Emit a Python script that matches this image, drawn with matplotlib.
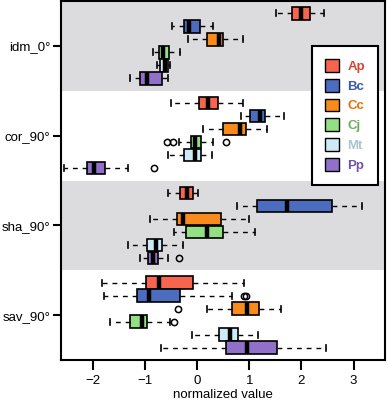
import matplotlib
matplotlib.use("Agg")
import matplotlib.pyplot as plt
from matplotlib.patches import Patch

plt.rcParams['font.family'] = ['Liberation Sans', 'DejaVu Sans']

features = ["idm_0°", "cor_90°", "sha_90°", "sav_90°"]
species = ["Ap", "Bc", "Cc", "Cj", "Mt", "Pp"]
box_colors = ["#F8654F", "#4C6CBF", "#F98A1C", "#92E081", "#CDEAF6", "#9070C8"]
text_colors = ["#D8452F", "#3A58A4", "#E2700E", "#6CB05A", "#A9C5D0", "#7050A8"]

# one row per feature, one value per species (Ap, Bc, Cc, Cj, Mt, Pp)
whislo = [[1.52, -0.48, -0.18, -0.86, -0.77, -1.29],
          [-0.51, 0.83, 0.10, -0.35, -0.56, -2.56],
          [-0.56, 0.77, -0.91, -0.45, -1.33, -1.10],
          [-1.83, -1.79, 0.18, -1.67, -0.11, -0.70]]
q1 = [[1.82, -0.25, 0.19, -0.74, -0.71, -1.10],
      [0.03, 1.01, 0.50, -0.13, -0.26, -2.11],
      [-0.33, 1.14, -0.40, -0.22, -0.97, -0.95],
      [-0.99, -1.15, 0.67, -1.29, 0.42, 0.55]]
med = [[1.99, -0.16, 0.42, -0.65, -0.62, -0.96],
       [0.21, 1.21, 0.82, -0.04, -0.05, -1.98],
       [-0.19, 1.72, -0.27, 0.19, -0.80, -0.85],
       [-0.73, -0.92, 0.95, -1.07, 0.63, 0.95]]
q3 = [[2.17, 0.05, 0.50, -0.54, -0.56, -0.67],
      [0.40, 1.30, 0.94, 0.08, 0.07, -1.77],
      [-0.09, 2.58, 0.45, 0.50, -0.67, -0.76],
      [-0.09, -0.33, 1.19, -0.97, 0.79, 1.53]]
whishi = [[2.44, 0.30, 0.87, -0.33, -0.53, -0.56],
          [0.87, 1.67, 1.33, 0.30, 0.28, -1.33],
          [0.02, 3.17, 1.00, 1.11, -0.27, -0.56],
          [0.90, 0.66, 1.60, -0.53, 1.17, 2.48]]
fliers = [[[], [], [], [], [], []],
          [[], [], [], [-0.58, -0.46, 0.56], [], [-0.83]],
          [[], [], [], [], [], [-0.35]],
          [[], [0.90, 0.94], [-0.38], [-0.45], [], []]]

fig = plt.figure(figsize=(3.88, 4.07), dpi=100)
ax = fig.add_axes([0.157, 0.1155, 0.836, 0.882])

ax.axhspan(-0.5, 0.5, color="#DCDCDE", zorder=0, lw=0)
ax.axhspan(1.5, 2.5, color="#DCDCDE", zorder=0, lw=0)

step = 0.145
for g in range(len(features)):
    stats = []
    pos = []
    for s in range(len(species)):
        stats.append(dict(med=med[g][s], q1=q1[g][s], q3=q3[g][s],
                          whislo=whislo[g][s], whishi=whishi[g][s],
                          fliers=fliers[g][s]))
        pos.append(g + (s - 2.5) * step)
    bp = ax.bxp(stats, positions=pos, widths=step * 0.95, orientation='horizontal',
                patch_artist=True, capwidths=step * 0.45,
                boxprops=dict(edgecolor="black", linewidth=1.2),
                medianprops=dict(color="black", linewidth=3.2, solid_capstyle='butt'),
                whiskerprops=dict(color="black", linewidth=1, linestyle=(0, (3.5, 3.5))),
                capprops=dict(color="black", linewidth=1.2),
                flierprops=dict(marker='o', markerfacecolor='none', markeredgecolor='black',
                                markersize=4.5, markeredgewidth=1.1),
                manage_ticks=False)
    for patch, c in zip(bp['boxes'], box_colors):
        patch.set_facecolor(c)

ax.set_ylim(3.5, -0.5)
ax.set_xlim(-2.62, 3.61)
ax.set_yticks(range(len(features)))
ax.set_yticklabels(features, fontsize=9.5)
ax.set_xticks([-2, -1, 0, 1, 2, 3])
ax.set_xticklabels(["\u22122", "\u22121", "0", "1", "2", "3"], fontsize=9.5)
ax.set_xlabel("normalized value", fontsize=9.5, labelpad=2)
ax.tick_params(axis='y', width=1.5, length=5.8, pad=2, direction='out')
ax.tick_params(axis='x', width=1.5, length=7.5, pad=3, direction='out')
for sp in ax.spines.values():
    sp.set_linewidth(1.5)

handles = [Patch(facecolor=c, edgecolor="black", linewidth=1) for c in box_colors]
leg = ax.legend(handles, species, loc='upper right', bbox_to_anchor=(0.978, 0.875),
                fancybox=False, framealpha=1, edgecolor="black", handlelength=1.1,
                handleheight=1.1, handletextpad=0.6, borderpad=1.0, labelspacing=0.45,
                prop=dict(size=9.5, weight='bold'), borderaxespad=0)
leg.get_frame().set_linewidth(1.5)
for t, c in zip(leg.get_texts(), text_colors):
    t.set_color(c)

fig.savefig("out.png", dpi=100)
